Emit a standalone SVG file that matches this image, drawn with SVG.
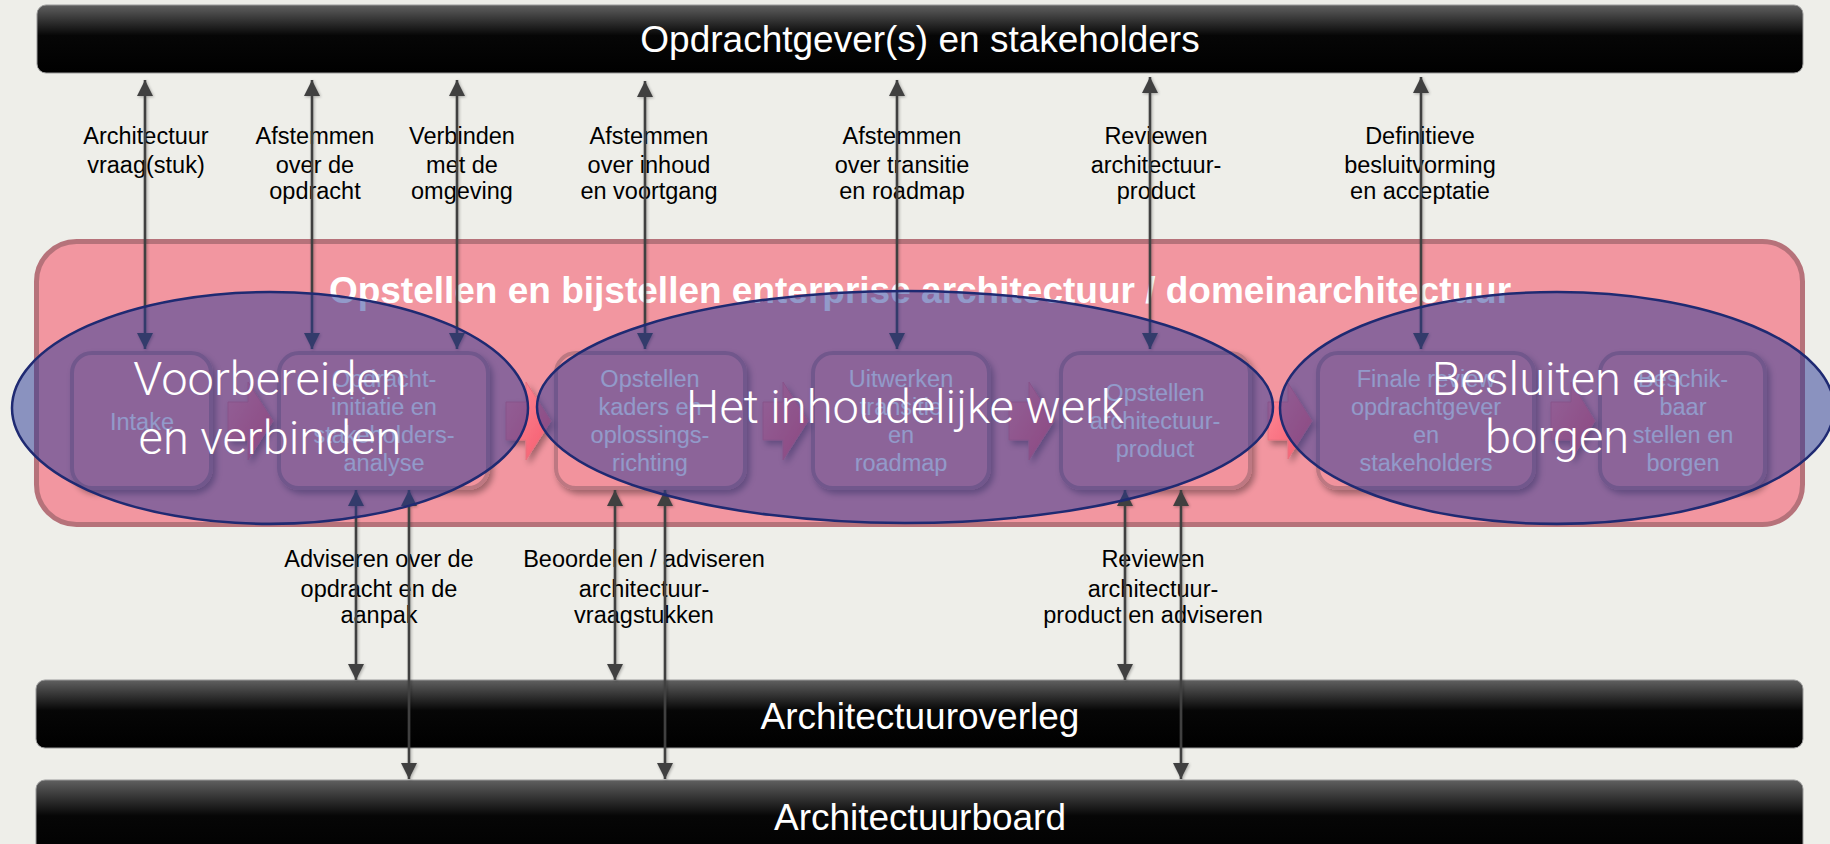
<svg xmlns="http://www.w3.org/2000/svg" width="1830" height="844" viewBox="0 0 1830 844">
<defs>
<linearGradient id="barGrad" x1="0" y1="0" x2="0" y2="1">
<stop offset="0" stop-color="#606060"/>
<stop offset="0.45" stop-color="#060606"/>
<stop offset="1" stop-color="#000"/>
</linearGradient>
<linearGradient id="stepGrad" x1="0" y1="0" x2="1" y2="1">
<stop offset="0" stop-color="#FF8C99"/>
<stop offset="1" stop-color="#F45A6C"/>
</linearGradient>
<filter id="shadow" x="-10%" y="-10%" width="130%" height="130%">
<feGaussianBlur in="SourceAlpha" stdDeviation="3"/>
<feOffset dx="3" dy="4" result="b"/>
<feComponentTransfer><feFuncA type="linear" slope="0.35"/></feComponentTransfer>
<feMerge><feMergeNode/><feMergeNode in="SourceGraphic"/></feMerge>
</filter>
<filter id="lshadow" x="-50%" y="-5%" width="200%" height="110%">
<feGaussianBlur in="SourceAlpha" stdDeviation="1.5"/>
<feOffset dx="1" dy="1"/>
<feComponentTransfer><feFuncA type="linear" slope="0.3"/></feComponentTransfer>
<feMerge><feMergeNode/><feMergeNode in="SourceGraphic"/></feMerge>
</filter>
<marker id="ah" viewBox="0 0 16 16" refX="16" refY="8" markerWidth="16" markerHeight="16" markerUnits="userSpaceOnUse" orient="auto-start-reverse">
<path d="M0,0 L16,8 L0,16 z" fill="#404040"/>
</marker>
<style>
.bar{fill:url(#barGrad);stroke:#9a9a9a;stroke-width:1}
.bartxt{font-family:"Liberation Sans",Arial,Helvetica,sans-serif;font-size:37px;fill:#fff;text-anchor:middle}
.lbl{font-family:"Liberation Sans",Arial,Helvetica,sans-serif;font-size:23.5px;fill:#000;text-anchor:middle}
.title{font-family:"Liberation Sans",Arial,Helvetica,sans-serif;font-size:37px;font-weight:bold;fill:#fff;text-anchor:middle}
.box{fill:#F2939D;stroke:#BD7882;stroke-width:4}
.boxtxt{font-family:"Liberation Sans",Arial,Helvetica,sans-serif;font-size:23.5px;fill:#fff;text-anchor:middle}
.step{fill:url(#stepGrad);stroke:#E8707F;stroke-width:1}
.conn{stroke:#404040;stroke-width:2.6;fill:none;marker-start:url(#ah);marker-end:url(#ah)}
.ell{fill:#263696;fill-opacity:0.5;stroke:#1F2A72;stroke-width:2.5}
.elltxt{font-family:Roboto,"Open Sans",sans-serif;font-weight:300;font-size:47px;fill:#fff;text-anchor:middle}
</style>
</defs>
<rect width="1830" height="844" fill="#EEEEE9"/>

<g id="opdrachtgever">
<rect class="bar" x="37" y="5" width="1766" height="68" rx="9"/>
<text class="bartxt" x="920" y="52">Opdrachtgever(s) en stakeholders</text>
</g>

<g id="architectuuroverleg">
<rect class="bar" x="36" y="680" width="1767" height="68" rx="9"/>
<text class="bartxt" x="920" y="729">Architectuuroverleg</text>
</g>

<g id="architectuurboard">
<rect class="bar" x="36" y="780" width="1767" height="80" rx="9"/>
<text class="bartxt" x="920" y="830">Architectuurboard</text>
</g>

<g id="connector-labels">
<text class="lbl" x="146" y="144">Architectuur</text>
<text class="lbl" x="146" y="173">vraag(stuk)</text>
<text class="lbl" x="315" y="144">Afstemmen</text>
<text class="lbl" x="315" y="173">over de</text>
<text class="lbl" x="315" y="199">opdracht</text>
<text class="lbl" x="462" y="144">Verbinden</text>
<text class="lbl" x="462" y="173">met de</text>
<text class="lbl" x="462" y="199">omgeving</text>
<text class="lbl" x="649" y="144">Afstemmen</text>
<text class="lbl" x="649" y="173">over inhoud</text>
<text class="lbl" x="649" y="199">en voortgang</text>
<text class="lbl" x="902" y="144">Afstemmen</text>
<text class="lbl" x="902" y="173">over transitie</text>
<text class="lbl" x="902" y="199">en roadmap</text>
<text class="lbl" x="1156" y="144">Reviewen</text>
<text class="lbl" x="1156" y="173">architectuur-</text>
<text class="lbl" x="1156" y="199">product</text>
<text class="lbl" x="1420" y="144">Definitieve</text>
<text class="lbl" x="1420" y="173">besluitvorming</text>
<text class="lbl" x="1420" y="199">en acceptatie</text>
<text class="lbl" x="379" y="567">Adviseren over de</text>
<text class="lbl" x="379" y="597">opdracht en de</text>
<text class="lbl" x="379" y="623">aanpak</text>
<text class="lbl" x="644" y="567">Beoordelen / adviseren</text>
<text class="lbl" x="644" y="597">architectuur-</text>
<text class="lbl" x="644" y="623">vraagstukken</text>
<text class="lbl" x="1153" y="567">Reviewen</text>
<text class="lbl" x="1153" y="597">architectuur-</text>
<text class="lbl" x="1153" y="623">product en adviseren</text>
</g>

<g id="proces">
<rect x="36.5" y="241.5" width="1766" height="283" rx="40" fill="#F296A0" stroke="#B6727A" stroke-width="5"/>
<text class="title" x="920" y="303">Opstellen en bijstellen enterprise architectuur / domeinarchitectuur</text>
</g>

<g id="step-intake">
<rect class="box" x="72" y="353" width="139" height="135" rx="20" filter="url(#shadow)"/>
<text class="boxtxt" x="142" y="430">Intake</text>
</g>
<g id="step-opdrachtinitiatie">
<rect class="box" x="279" y="353" width="209" height="135" rx="20" filter="url(#shadow)"/>
<text class="boxtxt" x="384" y="387">Opdracht-</text>
<text class="boxtxt" x="384" y="415">initiatie en</text>
<text class="boxtxt" x="384" y="443">stakeholders-</text>
<text class="boxtxt" x="384" y="471">analyse</text>
</g>
<g id="step-kaders">
<rect class="box" x="556" y="353" width="189" height="135" rx="20" filter="url(#shadow)"/>
<text class="boxtxt" x="650" y="387">Opstellen</text>
<text class="boxtxt" x="650" y="415">kaders en</text>
<text class="boxtxt" x="650" y="443">oplossings-</text>
<text class="boxtxt" x="650" y="471">richting</text>
</g>
<g id="step-transitie">
<rect class="box" x="813" y="353" width="176" height="135" rx="20" filter="url(#shadow)"/>
<text class="boxtxt" x="901" y="387">Uitwerken</text>
<text class="boxtxt" x="901" y="415">transitie</text>
<text class="boxtxt" x="901" y="443">en</text>
<text class="boxtxt" x="901" y="471">roadmap</text>
</g>
<g id="step-product">
<rect class="box" x="1061" y="353" width="189" height="135" rx="20" filter="url(#shadow)"/>
<text class="boxtxt" x="1155" y="401">Opstellen</text>
<text class="boxtxt" x="1155" y="429">architectuur-</text>
<text class="boxtxt" x="1155" y="457">product</text>
</g>
<g id="step-review">
<rect class="box" x="1318" y="353" width="216" height="135" rx="20" filter="url(#shadow)"/>
<text class="boxtxt" x="1426" y="387">Finale review</text>
<text class="boxtxt" x="1426" y="415">opdrachtgever</text>
<text class="boxtxt" x="1426" y="443">en</text>
<text class="boxtxt" x="1426" y="471">stakeholders</text>
</g>
<g id="step-borgen">
<rect class="box" x="1600" y="353" width="165" height="135" rx="20" filter="url(#shadow)"/>
<text class="boxtxt" x="1683" y="387">Beschik-</text>
<text class="boxtxt" x="1683" y="415">baar</text>
<text class="boxtxt" x="1683" y="443">stellen en</text>
<text class="boxtxt" x="1683" y="471">borgen</text>
</g>

<g id="step-arrows" filter="url(#shadow)">
<polygon class="step" points="228,402 248,402 248,382 273,421 248,460 248,440 228,440"/>
<polygon class="step" points="506,402 526,402 526,382 551,421 526,460 526,440 506,440"/>
<polygon class="step" points="763,402 783,402 783,382 808,421 783,460 783,440 763,440"/>
<polygon class="step" points="1009,402 1029,402 1029,382 1054,421 1029,460 1029,440 1009,440"/>
<polygon class="step" points="1268,402 1288,402 1288,383 1312,421 1288,459 1288,440 1268,440"/>
<polygon class="step" points="1551,402 1571,402 1571,382 1595,421 1571,460 1571,440 1551,440"/>
</g>

<g id="connectors" filter="url(#lshadow)">
<line class="conn" x1="145" y1="80" x2="145" y2="349"/>
<line class="conn" x1="312" y1="80" x2="312" y2="349"/>
<line class="conn" x1="457" y1="80" x2="457" y2="349"/>
<line class="conn" x1="645" y1="81" x2="645" y2="349"/>
<line class="conn" x1="897" y1="80" x2="897" y2="349"/>
<line class="conn" x1="1150" y1="77" x2="1150" y2="349"/>
<line class="conn" x1="1421" y1="77" x2="1421" y2="349"/>
<line class="conn" x1="356" y1="490" x2="356" y2="680"/>
<line class="conn" x1="615" y1="490" x2="615" y2="680"/>
<line class="conn" x1="1125" y1="490" x2="1125" y2="680"/>
<line class="conn" x1="409" y1="490" x2="409" y2="779"/>
<line class="conn" x1="665" y1="490" x2="665" y2="779"/>
<line class="conn" x1="1181" y1="490" x2="1181" y2="779"/>
</g>

<g id="fase-voorbereiden">
<ellipse class="ell" cx="270" cy="408" rx="258" ry="116"/>
<text class="elltxt" x="270" y="395">Voorbereiden</text>
<text class="elltxt" x="270" y="454">en verbinden</text>
</g>
<g id="fase-inhoud">
<ellipse class="ell" cx="905" cy="407" rx="368" ry="116"/>
<text class="elltxt" x="905" y="423">Het inhoudelijke werk</text>
</g>
<g id="fase-besluiten">
<ellipse class="ell" cx="1557" cy="408" rx="277" ry="116"/>
<text class="elltxt" x="1557" y="395">Besluiten en</text>
<text class="elltxt" x="1557" y="453">borgen</text>
</g>
</svg>
